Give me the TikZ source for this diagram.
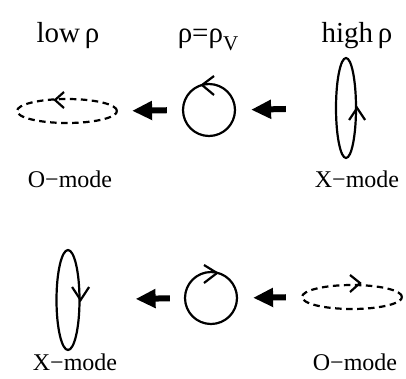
\documentclass[tikz,border=0pt]{standalone}
\usepackage{fontspec}
\setmainfont{Liberation Serif}
\usetikzlibrary{arrows.meta,shapes.geometric}
\tikzset{
  pol/.style={draw, line width=2.2pt, inner sep=0pt},
  dashpol/.style={pol, ellipse, dash pattern=on 6.5pt off 4.5pt},
  chev/.style={line width=2.2pt, line join=miter, line cap=butt},
  bigarrow/.style={line width=6pt, -{Triangle[length=20pt,width=18pt]}},
  head/.style={font=\fontsize{29}{29}\selectfont, anchor=base, inner sep=0pt},
  lab/.style={font=\fontsize{24}{24}\selectfont, anchor=base, inner sep=0pt}
}
\begin{document}
\begin{tikzpicture}[x=1pt,y=-1pt]
\useasboundingbox (0,0) rectangle (406,378);
% headings
\node[head] (h1) at (68,42) {low\,ρ};
\node[head] (h2) at (208,42) {ρ=ρ\raisebox{-0.3em}{\fontsize{21}{21}\selectfont V}};
\node[head] (h3) at (357,42) {high\,ρ};
% top row
\node[dashpol, minimum width=100pt, minimum height=24pt] (o1) at (67,111) {};
\node[pol, circle, minimum size=52pt] (c1) at (209,110) {};
\node[pol, ellipse, minimum width=20pt, minimum height=100pt] (x1) at (346,108) {};
\draw[chev] (64,92) -- (55,100) -- (64,108);
\draw[chev] (214,76) -- (202,85) -- (214,95);
\draw[chev] (x1.east) ++(-8,12) -- ++(8,-12) -- ++(8,12);
\draw[bigarrow, shorten <=15pt, shorten >=14pt] (c1.west) -- (o1.east);
\draw[bigarrow, shorten <=49pt, shorten >=15pt] (x1.west) -- (c1.east);
\node[lab] (l1) at (70,187) {O−mode};
\node[lab] (l2) at (357,187) {X−mode};
% bottom row
\node[pol, ellipse, minimum width=23pt, minimum height=100pt] (x2) at (68,300) {};
\node[pol, circle, minimum size=52pt] (c2) at (211,298) {};
\node[dashpol, minimum width=100pt, minimum height=24pt] (o2) at (352,297) {};
\draw[chev] (x2.east) ++(-8.5,-13) -- ++(8.5,13) -- ++(8.5,-13);
\draw[chev] (204,265) -- (217,273) -- (204,283);
\draw[chev] (350,275) -- (360,283) -- (350,292);
\draw[bigarrow, shorten <=14pt, shorten >=55pt] (c2.west) -- (x2.east);
\draw[bigarrow, shorten <=15pt, shorten >=15pt] (o2.west) -- (c2.east);
\node[lab] (l3) at (75,370) {X−mode};
\node[lab] (l4) at (355,370) {O−mode};
\end{tikzpicture}
\end{document}
